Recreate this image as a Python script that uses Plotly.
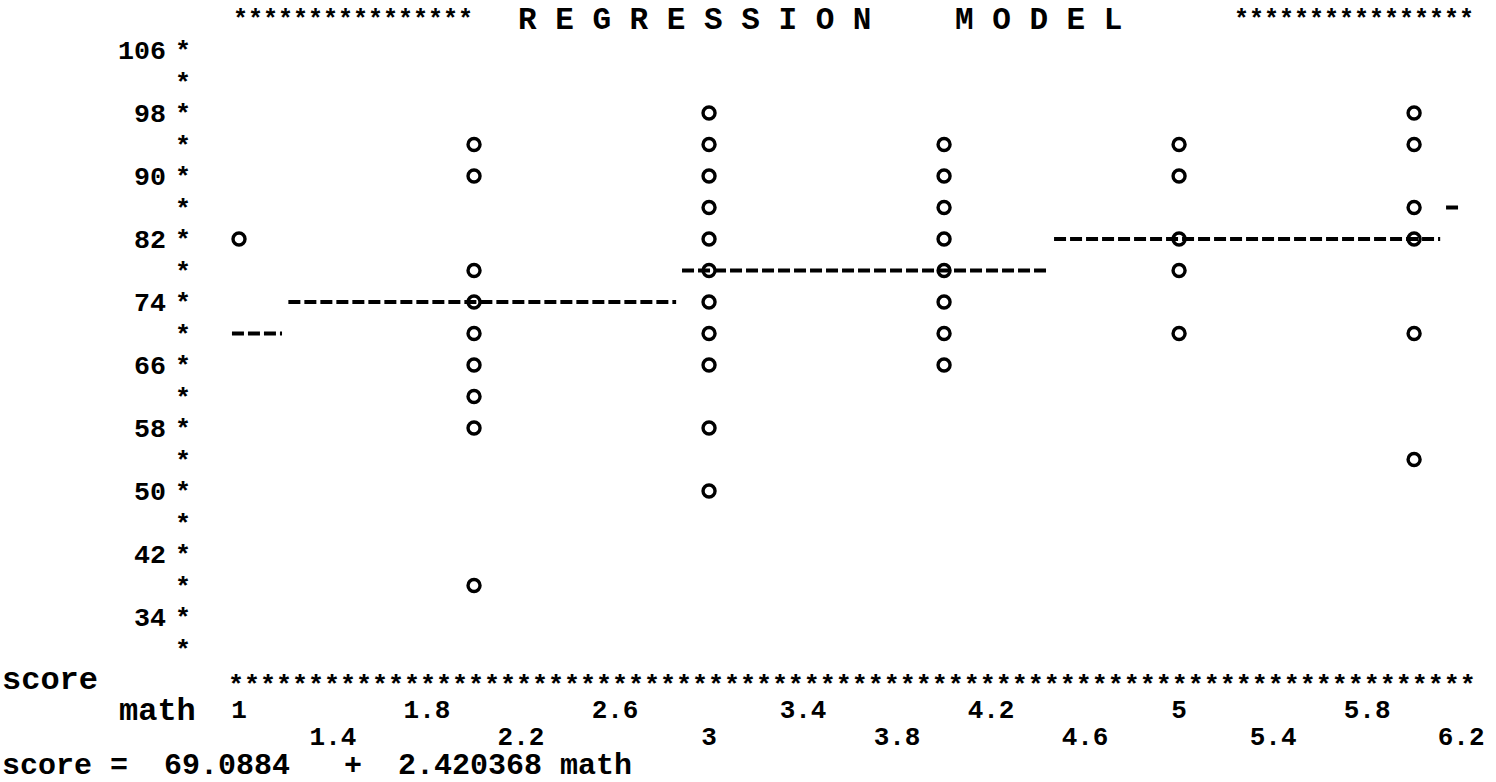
import plotly.graph_objects as go

# ---- data ----
math = [1,
        2, 2, 2, 2, 2, 2, 2, 2, 2,
        3, 3, 3, 3, 3, 3, 3, 3, 3, 3, 3,
        4, 4, 4, 4, 4, 4, 4, 4,
        5, 5, 5, 5, 5,
        6, 6, 6, 6, 6, 6]
score = [82,
         94, 90, 78, 74, 70, 66, 62, 58, 38,
         98, 94, 90, 86, 82, 78, 74, 70, 66, 58, 50,
         94, 90, 86, 82, 78, 74, 70, 66,
         94, 90, 82, 78, 70,
         98, 94, 86, 82, 70, 54]

# regression line as printed (character-resolution steps)
fit_start = [0.97, 1.21, 2.885, 4.468, 6.136]
fit_end = [1.183, 2.86, 4.447, 6.111, 6.187]
fit_level = [70, 74, 78, 82, 86]

x_ticks = [1, 1.4, 1.8, 2.2, 2.6, 3, 3.4, 3.8, 4.2, 4.6, 5, 5.4, 5.8, 6.2]
x_tick_labels = ["1", "1.4", "1.8", "2.2", "2.6", "3", "3.4", "3.8", "4.2",
                 "4.6", "5", "5.4", "5.8", "6.2"]
y_ticks = [106, 102, 98, 94, 90, 86, 82, 78, 74, 70, 66, 62, 58, 54, 50,
           46, 42, 38, 34, 30]
y_tick_labels = ["106", "", "98", "", "90", "", "82", "", "74", "", "66", "",
                 "58", "", "50", "", "42", "", "34", ""]

title_text = "R E G R E S S I O N"
title_text2 = "M O D E L"
x_name = "math"
y_name = "score"
equation = "score =  69.0884   +  2.420368 math"

# ---- layout geometry ----
W, H = 1496, 782
ML, MR, MT, MB = 200, 6, 35, 95
MONO = "Liberation Mono"
NB = "\u00a0"


def px2x(px):
    return (px - ML) / (W - ML - MR)


def py2y(py):
    return (H - MB - py) / (H - MT - MB)


def bold(size):
    return dict(family=MONO, size=size, color="black", weight="bold")


fig = go.Figure()

for x0, x1, yv in zip(fit_start, fit_end, fit_level):
    fig.add_trace(go.Scatter(
        x=[x0, x1], y=[yv, yv], mode="lines", xaxis="x2", yaxis="y",
        line=dict(color="black", width=4, dash="12px,4px"),
        hoverinfo="skip", showlegend=False))

fig.add_trace(go.Scatter(
    x=math, y=score, mode="markers",
    marker=dict(symbol="circle", size=12, color="white",
                line=dict(color="black", width=3.4)),
    showlegend=False))

yt = [(lab + "\u2004*") if lab else "*" for lab in y_tick_labels]
XR = [0.834, 6.323]
common_x = dict(showgrid=False, zeroline=False, showline=False, ticks="",
                automargin=False, range=XR, fixedrange=True)

fig.update_layout(
    xaxis=dict(tickvals=x_ticks[0::2], ticktext=x_tick_labels[0::2],
               tickfont=bold(26), ticklabelstandoff=4, **common_x),
    xaxis2=dict(tickvals=x_ticks[1::2], ticktext=x_tick_labels[1::2],
                tickfont=bold(26), ticklabelstandoff=31, overlaying="x",
                anchor="y", side="bottom", **common_x),
    yaxis=dict(range=[25.111, 107.905], tickvals=y_ticks, ticktext=yt,
               showgrid=False, zeroline=False, showline=False, ticks="",
               automargin=False, fixedrange=True,
               tickfont=bold(26.67), ticklabelstandoff=8),
)

ann = [
    dict(text="*" * 16, x=px2x(231), y=py2y(20), xanchor="left", yanchor="middle",
         font=bold(25)),
    dict(text=title_text, x=px2x(516), y=py2y(20), xanchor="left", yanchor="middle",
         font=bold(31)),
    dict(text=title_text2, x=px2x(953), y=py2y(20), xanchor="left", yanchor="middle",
         font=bold(31)),
    dict(text="*" * 16, x=px2x(1476), y=py2y(20), xanchor="right", yanchor="middle",
         font=bold(25)),
    dict(text="*" * 78, x=px2x(226), y=py2y(686), xanchor="left", yanchor="middle",
         font=bold(26.67)),
    dict(text=y_name, x=px2x(0), y=py2y(680), xanchor="left", yanchor="middle",
         font=bold(32)),
    dict(text=x_name, x=px2x(198), y=py2y(711), xanchor="right", yanchor="middle",
         font=bold(32)),
    dict(text=equation.replace(" ", NB), x=px2x(0), y=py2y(766), xanchor="left",
         yanchor="middle", font=bold(30)),
]
for a in ann:
    a.update(xref="paper", yref="paper", showarrow=False)

fig.update_layout(
    width=W, height=H,
    margin=dict(l=ML, r=MR, t=MT, b=MB),
    paper_bgcolor="white", plot_bgcolor="white",
    annotations=ann, showlegend=False)

fig.write_html("out.html", config={"displayModeBar": False},
               post_script="document.body.style.margin='0px';")
